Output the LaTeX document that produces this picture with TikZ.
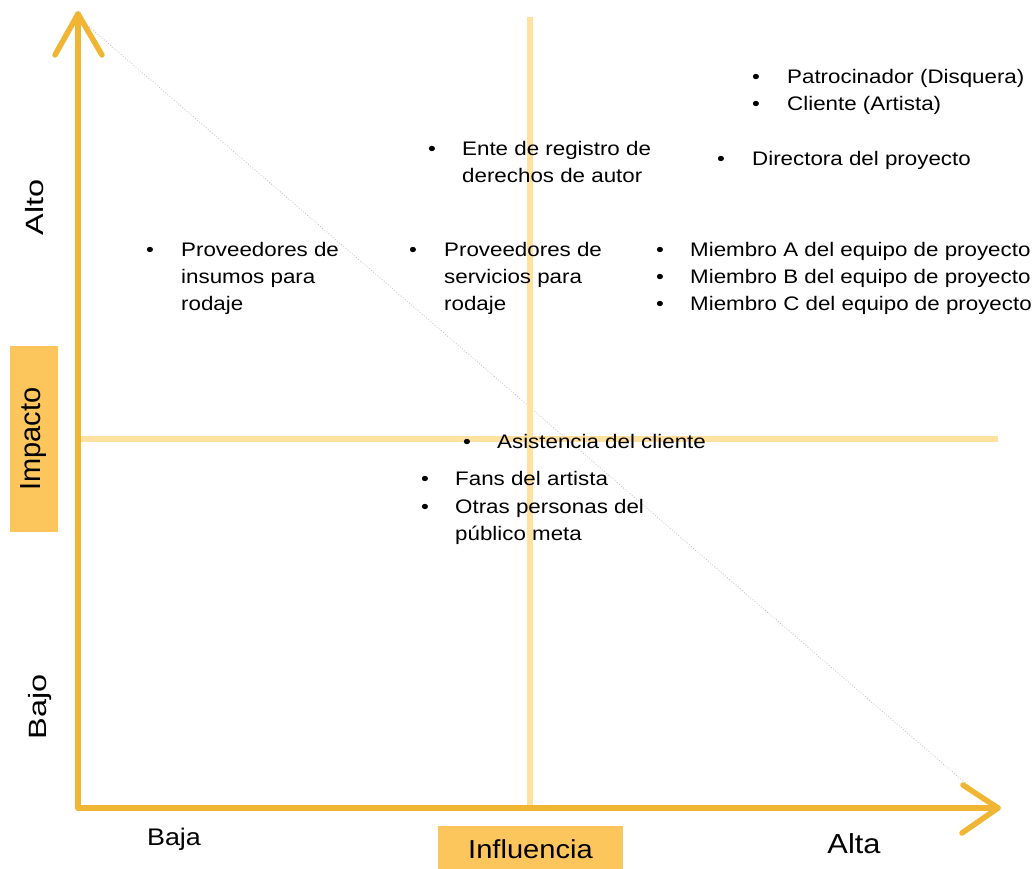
\documentclass[tikz,border=0pt]{standalone}
\usepackage{fontspec}
\setmainfont[FakeStretch=1.12]{Liberation Sans}
\newfontfamily\plainsans{Liberation Sans}
\newfontfamily\bodysans[FakeStretch=1.14]{Liberation Sans}
\newfontfamily\tallsans[FakeStretch=1.3]{Liberation Sans}

\definecolor{axisgold}{RGB}{240,181,50}
\definecolor{gridgold}{RGB}{255,225,160}
\definecolor{tagfill}{RGB}{252,198,92}

\tikzset{
  axisline/.style={draw=axisgold, line width=5.5pt, line cap=round, line join=round},
  gridline/.style={draw=gridgold, line width=6pt},
  guide/.style={draw=black!25, dotted, line width=0.8pt},
  tag/.style={fill=tagfill, draw=none, inner sep=0pt},
  bodyfont/.style={font=\bodysans\fontsize{19.6}{27}\selectfont},
  bul/.style={bodyfont, anchor=base, inner sep=0pt},
  itemtext/.style={bodyfont, anchor=base west, inner sep=0pt},
  levellabel/.style={inner sep=0pt, font=\tallsans\fontsize{25}{30}\selectfont},
  endlabel/.style={inner sep=0pt, anchor=base},
}

\newcommand{\lines}[1]{\begin{tabular}[t]{@{}l@{}}#1\end{tabular}}

\begin{document}
\begin{tikzpicture}[x=1pt, y=-1pt]
  \useasboundingbox (0,0) rectangle (1036,869);

  % key points of the grid
  \coordinate (origin) at (78,808);
  \coordinate (ytip) at (78,14);
  \coordinate (xtip) at (998,808);
  \coordinate (vtop) at (530,17);
  \coordinate (vbot) at (530,806);
  \coordinate (hleft) at (80,439);
  \coordinate (hright) at (998,439);
  \coordinate (gstart) at (87,25);
  \coordinate (gend) at (970,787);

  % faint diagonal guide
  \draw[guide] (gstart) -- (gend);

  % quadrant dividers
  \draw[gridline] (vtop) -- (vbot);
  \draw[gridline] (hleft) -- (hright);

  % axes with open arrow heads
  \draw[black!35, line width=1pt] (80,810.5) -- (995,810.5);
  \draw[axisline] (origin) -- (ytip);
  \draw[axisline] (55,55) -- (ytip) -- (102,55);
  \draw[axisline] (origin) -- (xtip);
  \draw[axisline] (963,785) -- (xtip) -- (962,833);

  % axis titles
  \node[tag, rotate=90, minimum width=186pt, minimum height=48pt,
        font=\plainsans\fontsize{29}{34}\selectfont] (impacto) at (34,439) {Impacto};
  \node[tag, minimum width=185pt, minimum height=46pt,
        font=\fontsize{26}{31}\selectfont] (influencia) at (530.5,849) {Influencia};

  % level labels
  \node[levellabel, rotate=90] (alto) at (35,207) {Alto};
  \node[levellabel, rotate=90] (bajo) at (40,707) {Bajo};
  \node[endlabel, font=\fontsize{24}{28}\selectfont] (baja) at (174,845) {Baja};
  \node[endlabel, font=\fontsize{27.5}{32}\selectfont] (alta) at (854,853) {Alta};

  % stakeholders
  \node[bul] (b1) at (756,84) {\textbullet};
  \node[itemtext] (t1) at (787,84) {Patrocinador (Disquera)};
  \node[bul] (b2) at (756,111) {\textbullet};
  \node[itemtext] (t2) at (787,111) {Cliente (Artista)};

  \node[bul] (b3) at (721,166) {\textbullet};
  \node[itemtext] (t3) at (752,166) {Directora del proyecto};

  \node[bul] (b4) at (432,156) {\textbullet};
  \node[itemtext] (t4) at (462,156) {\lines{Ente de registro de\\derechos de autor}};

  \node[bul] (b5) at (150,256) {\textbullet};
  \node[itemtext] (t5) at (181,256) {\lines{Proveedores de\\insumos para\\rodaje}};

  \node[bul] (b6) at (413,256) {\textbullet};
  \node[itemtext] (t6) at (444,256) {\lines{Proveedores de\\servicios para\\rodaje}};

  \node[bul] (b7) at (660,256) {\textbullet};
  \node[itemtext] (t7) at (690,256) {Miembro A del equipo de proyecto};
  \node[bul] (b8) at (660,283) {\textbullet};
  \node[itemtext] (t8) at (690,283) {Miembro B del equipo de proyecto};
  \node[bul] (b9) at (660,310) {\textbullet};
  \node[itemtext] (t9) at (690,310) {Miembro C del equipo de proyecto};

  \node[bul] (b10) at (467,448) {\textbullet};
  \node[itemtext] (t10) at (497,448) {Asistencia del cliente};

  \node[bul] (b11) at (425,485) {\textbullet};
  \node[itemtext] (t11) at (455,485) {Fans del artista};
  \node[bul] (b12) at (425,513) {\textbullet};
  \node[itemtext] (t12) at (455,513) {\lines{Otras personas del\\público meta}};
\end{tikzpicture}
\end{document}
